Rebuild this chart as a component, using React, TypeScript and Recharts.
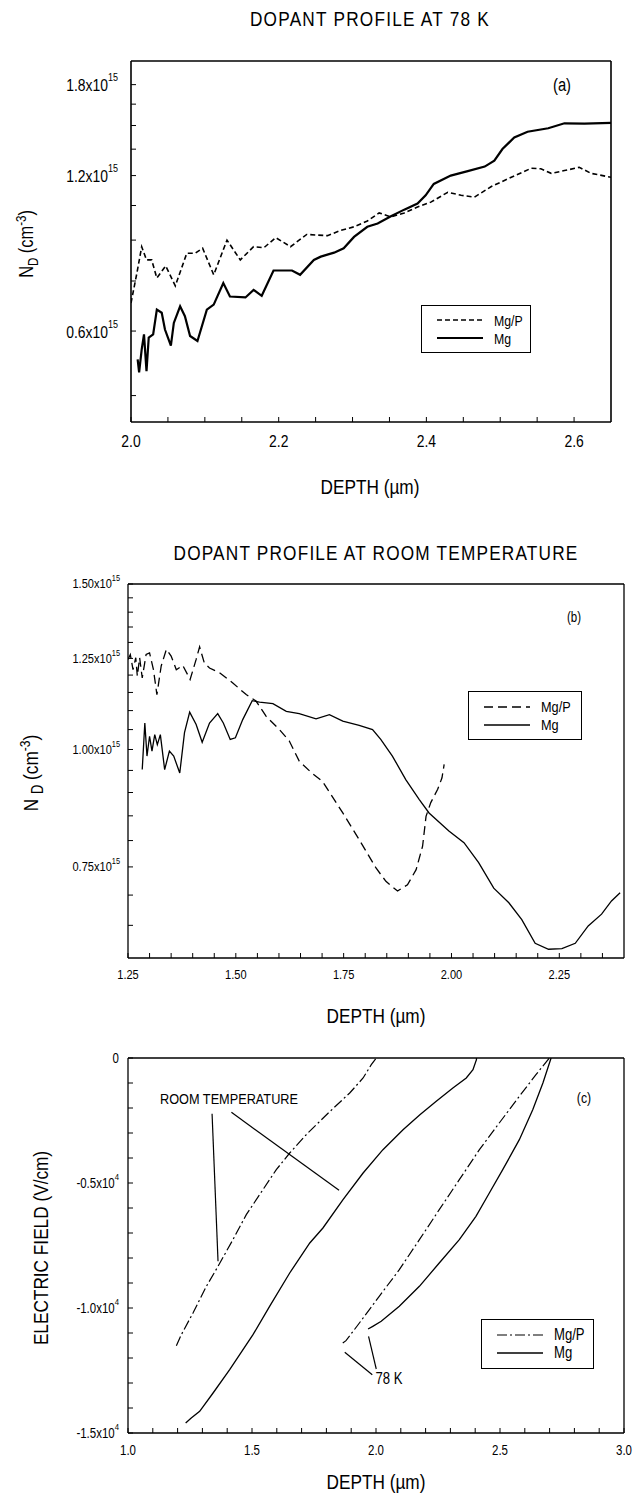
import React from 'react';
import { LineChart, Line, XAxis, YAxis, Legend, ReferenceLine } from 'recharts';

// the original lettering is a narrow sans; Liberation Sans squeezed horizontally stands in for it
const FONT = '"Liberation Sans", Arial, sans-serif';
const SQ = 0.82;

// ---- panel (a): dopant profile at 78 K (N_D in units of 1e15 cm^-3) ----
const aMgPDepth = [2.0, 2.008, 2.0145, 2.021, 2.028, 2.035, 2.047, 2.06, 2.0756, 2.087, 2.097, 2.112, 2.13, 2.148, 2.166, 2.18, 2.196, 2.216, 2.238, 2.266, 2.284, 2.302, 2.32, 2.336, 2.352, 2.37, 2.388, 2.406, 2.429, 2.447, 2.465, 2.488, 2.515, 2.542, 2.555, 2.569, 2.587, 2.607, 2.623, 2.65];
const aMgPNd = [0.68, 0.777, 0.874, 0.824, 0.824, 0.76, 0.802, 0.734, 0.849, 0.849, 0.868, 0.771, 0.9, 0.824, 0.874, 0.87, 0.91, 0.874, 0.923, 0.918, 0.94, 0.955, 0.98, 1.016, 0.998, 1.016, 1.043, 1.066, 1.114, 1.099, 1.09, 1.143, 1.191, 1.24, 1.237, 1.212, 1.227, 1.245, 1.212, 1.191];
const aMgDepth = [2.009, 2.011, 2.0145, 2.0176, 2.021, 2.024, 2.03, 2.035, 2.0416, 2.046, 2.054, 2.058, 2.0665, 2.073, 2.08, 2.09, 2.1027, 2.112, 2.125, 2.134, 2.155, 2.166, 2.177, 2.193, 2.218, 2.229, 2.2476, 2.257, 2.275, 2.288, 2.302, 2.32, 2.334, 2.352, 2.37, 2.388, 2.399, 2.41, 2.433, 2.456, 2.479, 2.492, 2.503, 2.519, 2.537, 2.565, 2.587, 2.614, 2.65];
const aMgNd = [0.529, 0.499, 0.553, 0.591, 0.502, 0.583, 0.591, 0.66, 0.651, 0.604, 0.562, 0.622, 0.67, 0.641, 0.587, 0.574, 0.66, 0.675, 0.743, 0.7, 0.697, 0.721, 0.702, 0.786, 0.786, 0.771, 0.824, 0.836, 0.851, 0.868, 0.913, 0.955, 0.969, 1.001, 1.031, 1.059, 1.099, 1.156, 1.2, 1.224, 1.249, 1.283, 1.351, 1.422, 1.459, 1.482, 1.515, 1.513, 1.518];
const aXTicks = [2.0, 2.05, 2.1, 2.15, 2.2, 2.25, 2.3, 2.35, 2.4, 2.45, 2.5, 2.55, 2.6];
const aXLabeled = [2.0, 2.2, 2.4, 2.6];
const aYTicks = [0.45, 0.6, 0.75, 0.9, 1.05, 1.2, 1.35, 1.5, 1.65, 1.8];
const aYLabeled = [0.6, 1.2, 1.8];

// ---- panel (b): dopant profile at room temperature ----
const bMgPDepth = [1.25, 1.2554, 1.2616, 1.268, 1.2716, 1.277, 1.283, 1.292, 1.3, 1.309, 1.317, 1.327, 1.339, 1.35, 1.362, 1.377, 1.394, 1.408, 1.416, 1.427, 1.439, 1.462, 1.493, 1.524, 1.547, 1.57, 1.601, 1.624, 1.647, 1.675, 1.701, 1.748, 1.786, 1.825, 1.848, 1.875, 1.898, 1.918, 1.933, 1.941, 1.952, 1.968, 1.978, 1.983];
const bMgPNd = [1.247, 1.262, 1.216, 1.252, 1.197, 1.252, 1.192, 1.262, 1.267, 1.216, 1.144, 1.227, 1.278, 1.257, 1.216, 1.229, 1.187, 1.247, 1.286, 1.236, 1.221, 1.207, 1.177, 1.144, 1.126, 1.085, 1.05, 1.021, 0.972, 0.945, 0.925, 0.856, 0.802, 0.748, 0.724, 0.707, 0.718, 0.745, 0.789, 0.849, 0.878, 0.907, 0.933, 0.964];
const bMgDepth = [1.283, 1.289, 1.294, 1.3, 1.3056, 1.312, 1.318, 1.325, 1.335, 1.346, 1.356, 1.37, 1.381, 1.393, 1.408, 1.422, 1.439, 1.458, 1.471, 1.487, 1.499, 1.516, 1.538, 1.555, 1.586, 1.617, 1.647, 1.686, 1.717, 1.748, 1.786, 1.817, 1.836, 1.863, 1.894, 1.925, 1.948, 1.994, 2.029, 2.063, 2.098, 2.133, 2.163, 2.194, 2.225, 2.256, 2.287, 2.317, 2.348, 2.371, 2.391];
const bMgNd = [0.952, 1.067, 0.984, 1.033, 0.996, 1.037, 1.012, 1.037, 0.952, 0.996, 0.984, 0.944, 1.042, 1.096, 1.063, 1.018, 1.067, 1.092, 1.067, 1.025, 1.029, 1.076, 1.127, 1.123, 1.119, 1.098, 1.092, 1.078, 1.089, 1.072, 1.061, 1.05, 1.025, 0.984, 0.929, 0.885, 0.856, 0.819, 0.796, 0.758, 0.712, 0.687, 0.659, 0.622, 0.613, 0.614, 0.622, 0.649, 0.668, 0.69, 0.704];
const bXTicks = [1.25, 1.3, 1.35, 1.4, 1.45, 1.5, 1.55, 1.6, 1.65, 1.7, 1.75, 1.8, 1.85, 1.9, 1.95, 2.0, 2.05, 2.1, 2.15, 2.2, 2.25, 2.3, 2.35];
const bXLabeled = [1.25, 1.5, 1.75, 2.0, 2.25];
const bYTicks = [0.65, 0.7, 0.75, 0.8, 0.85, 0.9, 0.95, 1.0, 1.05, 1.1, 1.15, 1.2, 1.25, 1.3, 1.35, 1.4, 1.45, 1.5];
const bYLabeled = [0.75, 1.0, 1.25, 1.5];

// ---- panel (c): electric field (V/cm) ----
const cRtMgPDepth = [1.195, 1.215, 1.262, 1.316, 1.363, 1.423, 1.477, 1.544, 1.598, 1.652, 1.725, 1.813, 1.894, 1.948, 1.981, 2.001];
const cRtMgPField = [-11507, -11067, -10200, -9133, -8333, -7267, -6267, -5267, -4467, -3800, -3000, -2150, -1400, -800, -267, 0];
const cRtMgDepth = [1.2325, 1.255, 1.289, 1.343, 1.41, 1.504, 1.571, 1.652, 1.733, 1.786, 1.867, 1.948, 2.028, 2.109, 2.177, 2.243, 2.31, 2.364, 2.391, 2.405, 2.405];
const cRtMgField = [-14600, -14400, -14133, -13400, -12467, -11067, -9933, -8600, -7400, -6800, -5667, -4600, -3667, -2867, -2267, -1733, -1200, -800, -467, -67, 0];
const cLtMgPDepth = [1.866, 1.879, 1.933, 2.013, 2.094, 2.175, 2.255, 2.336, 2.417, 2.497, 2.578, 2.645, 2.699];
const cLtMgPField = [-11400, -11307, -10600, -9533, -8467, -7267, -6067, -4867, -3667, -2600, -1533, -667, 0];
const cLtMgDepth = [1.968, 1.987, 2.021, 2.094, 2.175, 2.255, 2.336, 2.403, 2.457, 2.511, 2.578, 2.632, 2.673, 2.706];
const cLtMgField = [-10840, -10733, -10533, -9933, -9133, -8200, -7267, -6333, -5400, -4467, -3267, -2067, -1000, 0];
const cXTicks = [1.0, 1.1, 1.2, 1.3, 1.4, 1.5, 1.6, 1.7, 1.8, 1.9, 2.0, 2.1, 2.2, 2.3, 2.4, 2.5, 2.6, 2.7, 2.8, 2.9, 3.0];
const cXLabeled = [1.0, 1.5, 2.0, 2.5, 3.0];
const cYTicks = [0, -1000, -2000, -3000, -4000, -5000, -6000, -7000, -8000, -9000, -10000, -11000, -12000, -13000, -14000, -15000];
const cYLabeled = [0, -5000, -10000, -15000];
// leader lines of the "ROOM TEMPERATURE" and "78 K" notes (depth, field)
const cRtLeaderDepth = [[1.339, 1.363], [1.417, 1.851]];
const cRtLeaderField = [[-2227, -8133], [-2173, -5293]];
const cLtLeaderDepth = [[1.874, 1.985], [1.97, 2.001]];
const cLtLeaderField = [[-11773, -12667], [-11133, -12440]];

type Pt = { x: number; y: number };
const zip = (xs: number[], ys: number[]): Pt[] => xs.map((x, i) => ({ x, y: ys[i] }));
const has = (list: number[], v: number) => list.some((t) => Math.abs(t - v) < 1e-6);

interface SeriesDef {
  name: string;
  points: Pt[];
  dash?: string;
  width: number;
}

interface YLabel {
  main: string;
  sup?: string;
}

interface PanelProps {
  top: number;
  height: number;
  // plot box edges, page pixels relative to the panel top
  box: { left: number; right: number; top: number; bottom: number };
  xDomain: [number, number];
  yDomain: [number, number];
  logY?: boolean;
  xTicks: number[];
  yTicks: number[];
  xLabel: (v: number) => string | null;
  yLabel: (v: number) => YLabel | null;
  tickFont: number;
  supFont: number;
  xTickGap: number;
  yTickGap: number;
  frameWidth: number;
  series: SeriesDef[];
  legend: { left: number; top: number; width: number; height: number; font: number };
  segments?: [Pt, Pt][];
}

const TICK = 5;

function LegendBox({ items, width, height, font }: { items: SeriesDef[]; width: number; height: number; font: number }) {
  return (
    <div
      style={{
        boxSizing: 'border-box',
        width,
        height,
        border: '1.5px solid #000',
        background: '#fff',
        display: 'flex',
        flexDirection: 'column',
        justifyContent: 'center',
        paddingLeft: 15,
      }}
    >
      {items.map((it) => (
        <div key={it.name} style={{ display: 'flex', alignItems: 'center', height: 18 }}>
          <svg width={46} height={6}>
            <line x1={0} y1={3} x2={46} y2={3} stroke="#000" strokeWidth={it.width} strokeDasharray={it.dash} />
          </svg>
          <span
            style={{
              marginLeft: 11,
              fontFamily: FONT,
              fontSize: font,
              lineHeight: 1,
              display: 'inline-block',
              transform: `scaleX(${SQ})`,
              transformOrigin: 'left center',
            }}
          >
            {it.name}
          </span>
        </div>
      ))}
    </div>
  );
}

function Panel(p: PanelProps) {
  const axisLine = { stroke: '#000', strokeWidth: p.frameWidth };
  const tickLine = { stroke: '#000', strokeWidth: 1 };
  // axes are 1px thick so that recharts still draws them
  const margin = {
    top: p.box.top - 1,
    left: p.box.left - 1,
    right: 641 - p.box.right - 1,
    bottom: p.height - p.box.bottom - 1,
  };
  return (
    <div style={{ position: 'absolute', left: 0, top: p.top }}>
      <LineChart width={641} height={p.height} margin={margin}>
        <XAxis
          xAxisId="b"
          type="number"
          dataKey="x"
          domain={p.xDomain}
          allowDataOverflow
          ticks={p.xTicks}
          interval={0}
          height={1}
          tickSize={-TICK}
          tickMargin={TICK + p.xTickGap}
          axisLine={axisLine}
          tickLine={tickLine}
          tick={(t: any) => {
            const s = p.xLabel(t.payload.value);
            if (s === null) return <g />;
            return (
              <g transform={`translate(${t.x},${t.y}) scale(${SQ},1)`}>
                <text x={0} y={0} textAnchor="middle" dominantBaseline="central" fontFamily={FONT} fontSize={p.tickFont} fill="#000">
                  {s}
                </text>
              </g>
            );
          }}
        />
        <XAxis
          xAxisId="t"
          orientation="top"
          type="number"
          domain={p.xDomain}
          allowDataOverflow
          ticks={p.xTicks}
          interval={0}
          height={1}
          tickSize={-TICK}
          axisLine={axisLine}
          tickLine={tickLine}
          tick={false}
        />
        <YAxis
          yAxisId="l"
          type="number"
          scale={p.logY ? 'log' : 'linear'}
          domain={p.yDomain}
          allowDataOverflow
          ticks={p.yTicks}
          interval={0}
          width={1}
          tickSize={-TICK}
          tickMargin={TICK + p.yTickGap}
          axisLine={axisLine}
          tickLine={tickLine}
          tick={(t: any) => {
            const l = p.yLabel(t.payload.value);
            if (l === null) return <g />;
            return (
              <g transform={`translate(${t.x},${t.y}) scale(${SQ},1)`}>
                <text x={0} y={0} textAnchor="end" dominantBaseline="central" fontFamily={FONT} fontSize={p.tickFont} fill="#000">
                  <tspan>{l.main}</tspan>
                  {l.sup && (
                    <tspan dy={-p.tickFont * 0.45} fontSize={p.supFont}>
                      {l.sup}
                    </tspan>
                  )}
                </text>
              </g>
            );
          }}
        />
        <YAxis
          yAxisId="r"
          orientation="right"
          type="number"
          scale={p.logY ? 'log' : 'linear'}
          domain={p.yDomain}
          allowDataOverflow
          ticks={p.yTicks}
          interval={0}
          width={1}
          tickSize={-TICK}
          axisLine={axisLine}
          tickLine={tickLine}
          tick={false}
        />
        {p.series.map((s, i) => (
          <Line
            key={s.name + i}
            xAxisId="b"
            yAxisId="l"
            data={s.points}
            dataKey="y"
            name={s.name}
            type="linear"
            stroke="#000"
            strokeWidth={s.width}
            strokeDasharray={s.dash}
            dot={false}
            activeDot={false}
            isAnimationActive={false}
          />
        ))}
        {(p.segments ?? []).map((seg, i) => (
          <ReferenceLine key={i} xAxisId="b" yAxisId="l" segment={seg} stroke="#000" strokeWidth={1.2} />
        ))}
        <Legend
          layout="horizontal"
          verticalAlign="middle"
          align="center"
          wrapperStyle={{ left: p.legend.left, top: p.legend.top, width: p.legend.width, height: p.legend.height }}
          content={() => (
            <LegendBox items={p.series.slice(0, 2)} width={p.legend.width} height={p.legend.height} font={p.legend.font} />
          )}
        />
      </LineChart>
    </div>
  );
}

function Txt({
  x,
  y,
  size,
  children,
  rotate,
  spacing,
}: {
  x: number;
  y: number;
  size: number;
  children: React.ReactNode;
  rotate?: boolean;
  spacing?: number;
}) {
  return (
    <div
      style={{
        position: 'absolute',
        left: x,
        top: y,
        transform: `translate(-50%, -50%)${rotate ? ' rotate(-90deg)' : ''} scaleX(${SQ})`,
        fontFamily: FONT,
        fontSize: size,
        lineHeight: 1,
        whiteSpace: 'nowrap',
        letterSpacing: spacing ?? 0,
        color: '#000',
      }}
    >
      {children}
    </div>
  );
}

const depthLabel = <>DEPTH (&micro;m)</>;

export default function App() {
  const aSeries: SeriesDef[] = [
    { name: 'Mg/P', points: zip(aMgPDepth, aMgPNd), dash: '5 3', width: 1.6 },
    { name: 'Mg', points: zip(aMgDepth, aMgNd), width: 2.2 },
  ];
  const bSeries: SeriesDef[] = [
    { name: 'Mg/P', points: zip(bMgPDepth, bMgPNd), dash: '9 5', width: 1.3 },
    { name: 'Mg', points: zip(bMgDepth, bMgNd), width: 1.3 },
  ];
  const cSeries: SeriesDef[] = [
    { name: 'Mg/P', points: zip(cRtMgPDepth, cRtMgPField), dash: '10 3 2 3', width: 1.2 },
    { name: 'Mg', points: zip(cRtMgDepth, cRtMgField), width: 1.3 },
    { name: 'Mg/P 78 K', points: zip(cLtMgPDepth, cLtMgPField), dash: '10 3 2 3', width: 1.2 },
    { name: 'Mg 78 K', points: zip(cLtMgDepth, cLtMgField), width: 1.3 },
  ];
  const cSegments: [Pt, Pt][] = [
    ...cRtLeaderDepth.map((d, i) => zip(d, cRtLeaderField[i]) as [Pt, Pt]),
    ...cLtLeaderDepth.map((d, i) => zip(d, cLtLeaderField[i]) as [Pt, Pt]),
  ];

  return (
    <div style={{ position: 'relative', width: 641, height: 1500, background: '#fff', overflow: 'hidden' }}>
      <style>{'body{margin:0}'}</style>

      <Panel
        top={0}
        height={500}
        box={{ left: 131, right: 611, top: 61, bottom: 422 }}
        xDomain={[2.0, 2.65]}
        yDomain={[0.4, 2.0]}
        logY
        xTicks={aXTicks}
        yTicks={aYTicks}
        xLabel={(v) => (has(aXLabeled, v) ? v.toFixed(1) : null)}
        yLabel={(v) => (has(aYLabeled, v) ? { main: `${v.toFixed(1)}x10`, sup: '15' } : null)}
        tickFont={17}
        supFont={11}
        xTickGap={19}
        yTickGap={13}
        frameWidth={1.6}
        series={aSeries}
        legend={{ left: 421, top: 305, width: 110, height: 48, font: 15 }}
      />
      <Txt x={370} y={18} size={21} spacing={1.5}>DOPANT PROFILE AT 78 K</Txt>
      <Txt x={370} y={486} size={21}>{depthLabel}</Txt>
      <Txt x={27} y={244} size={20} rotate>
        <>
          N<sub style={{ fontSize: '0.7em' }}>D</sub> (cm<sup style={{ fontSize: '0.7em' }}>-3</sup>)
        </>
      </Txt>
      <Txt x={562} y={85} size={18}>(a)</Txt>

      <Panel
        top={500}
        height={500}
        box={{ left: 128, right: 624, top: 84, bottom: 458 }}
        xDomain={[1.25, 2.4]}
        yDomain={[0.6, 1.5]}
        logY
        xTicks={bXTicks}
        yTicks={bYTicks}
        xLabel={(v) => (has(bXLabeled, v) ? v.toFixed(2) : null)}
        yLabel={(v) => (has(bYLabeled, v) ? { main: `${v.toFixed(2)}x10`, sup: '15' } : null)}
        tickFont={13.5}
        supFont={9}
        xTickGap={17}
        yTickGap={8}
        frameWidth={1.3}
        series={bSeries}
        legend={{ left: 468, top: 191, width: 114, height: 49, font: 15.5 }}
      />
      <Txt x={376} y={552} size={21} spacing={1.45}>DOPANT PROFILE AT ROOM TEMPERATURE</Txt>
      <Txt x={376} y={1015} size={21}>{depthLabel}</Txt>
      <Txt x={32} y={773} size={21} rotate>
        <>
          N <sub style={{ fontSize: '0.75em' }}>D</sub> (cm<sup style={{ fontSize: '0.7em' }}>-3</sup>)
        </>
      </Txt>
      <Txt x={574} y={617} size={14}>(b)</Txt>

      <Panel
        top={1000}
        height={500}
        box={{ left: 128, right: 624, top: 58, bottom: 433 }}
        xDomain={[1.0, 3.0]}
        yDomain={[-15000, 0]}
        xTicks={cXTicks}
        yTicks={cYTicks}
        xLabel={(v) => (has(cXLabeled, v) ? v.toFixed(1) : null)}
        yLabel={(v) =>
          has(cYLabeled, v) ? (v === 0 ? { main: '0' } : { main: `${(v / 10000).toFixed(1)}x10`, sup: '4' }) : null
        }
        tickFont={14}
        supFont={9.5}
        xTickGap={17}
        yTickGap={9}
        frameWidth={1.3}
        series={cSeries}
        segments={cSegments}
        legend={{ left: 481, top: 319, width: 113, height: 50, font: 16 }}
      />
      <Txt x={376} y={1481} size={21}>{depthLabel}</Txt>
      <Txt x={40} y={1248} size={21} rotate>ELECTRIC FIELD (V/cm)</Txt>
      <Txt x={584} y={1097} size={15}>(c)</Txt>
      <Txt x={229} y={1099} size={15.5}>ROOM TEMPERATURE</Txt>
      <Txt x={389} y={1379} size={16}>78 K</Txt>
    </div>
  );
}
